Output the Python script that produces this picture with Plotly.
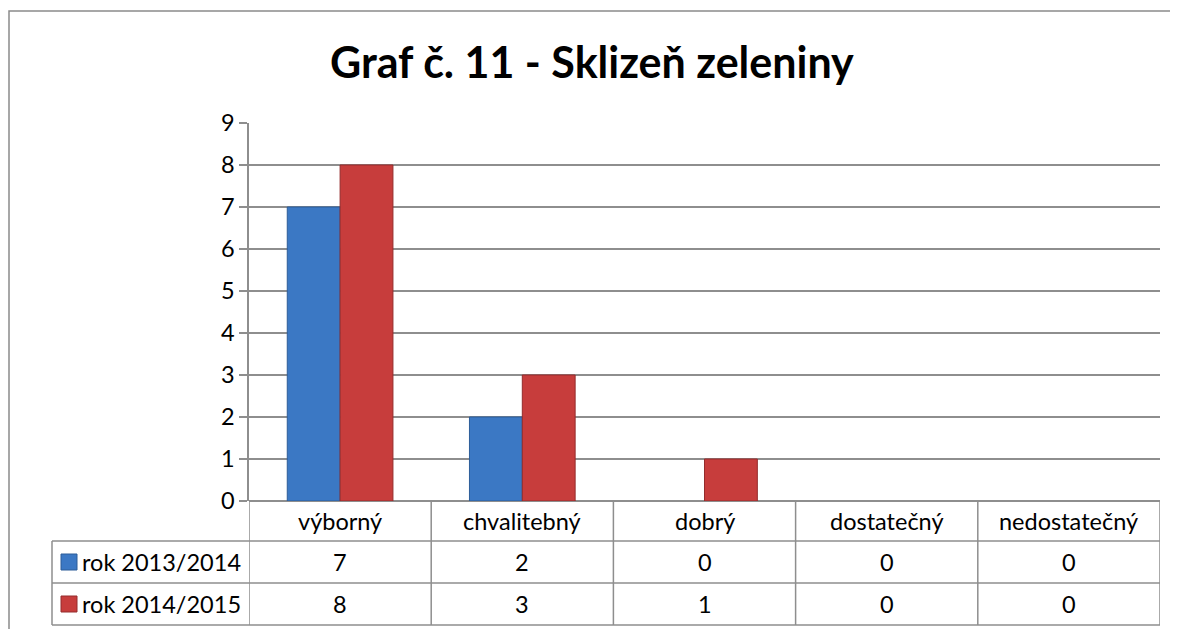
import plotly.graph_objects as go

categories = ["výborný", "chvalitebný", "dobrý", "dostatečný", "nedostatečný"]
series_names = ["rok 2013/2014", "rok 2014/2015"]
values_2013 = [7, 2, 0, 0, 0]
values_2014 = [8, 3, 1, 0, 0]
y_ticks = list(range(0, 10))
title_text = "Graf č. 11 - Sklizeň zeleniny"

colors = ["#3B78C4", "#C73D3C"]
edge_colors = ["#2C5C98", "#942C2C"]
FONT = "Lato"
GRID = "#8E8E8E"
FS = 23.5

OFF = 8  # browser body margin
W, H = 1178 - OFF, 629 - OFF
L, R, T, B = 249 - OFF, 1160 - OFF, 123 - OFF, 501 - OFF
plot_w, plot_h = R - L, B - T


def px_x(x):
    return (x - OFF - L) / plot_w


def px_y(y):
    return (B - (y - OFF)) / plot_h


fig = go.Figure()
for name, vals, col, ecol in zip(series_names, [values_2013, values_2014], colors, edge_colors):
    fig.add_trace(go.Bar(
        x=categories, y=[v if v else None for v in vals], name=name,
        marker=dict(color=col, line=dict(color=ecol, width=1)),
        showlegend=False,
    ))

shapes = []
line = dict(color=GRID, width=1.5)
shapes.append(dict(type="rect", xref="paper", yref="paper",
                   x0=px_x(9), x1=px_x(1190), y0=px_y(11), y1=px_y(645),
                   line=dict(color="#8A8A8A", width=1.5), layer="below"))
row_lines = [541, 583, 625]
for yy in row_lines:
    shapes.append(dict(type="line", xref="paper", yref="paper",
                       x0=px_x(52), x1=1, y0=px_y(yy), y1=px_y(yy), line=line))
for k in range(len(categories) + 1):
    shapes.append(dict(type="line", xref="x", yref="paper",
                       x0=k - 0.5, x1=k - 0.5, y0=0, y1=px_y(625), line=line))
shapes.append(dict(type="line", xref="paper", yref="paper",
                   x0=px_x(52), x1=px_x(52), y0=px_y(541), y1=px_y(625), line=line))

annotations = []
row_y = [562, 604]
for c in categories:
    annotations.append(dict(x=c, xref="x", y=px_y(521), yref="paper", text=c,
                            showarrow=False, font=dict(family=FONT, size=FS, color="#000"),
                            xanchor="center", yanchor="middle"))
for i, (name, vals) in enumerate(zip(series_names, [values_2013, values_2014])):
    yy = row_y[i]
    for c, v in zip(categories, vals):
        annotations.append(dict(x=c, xref="x", y=px_y(yy), yref="paper", text=str(v),
                                showarrow=False, font=dict(family=FONT, size=FS, color="#000"),
                                xanchor="center", yanchor="middle"))
    annotations.append(dict(x=px_x(80), xref="paper", y=px_y(yy), yref="paper", text=name,
                            showarrow=False, font=dict(family=FONT, size=FS, color="#000"),
                            xanchor="left", yanchor="middle"))
    shapes.append(dict(type="rect", xref="paper", yref="paper",
                       x0=px_x(61), x1=px_x(77), y0=px_y(yy - 8), y1=px_y(yy + 8),
                       fillcolor=colors[i], line=dict(color=edge_colors[i], width=1)))

annotations.append(dict(x=px_x(592), xref="paper", y=px_y(61), yref="paper",
                        text="<b>" + title_text + "</b>", showarrow=False,
                        font=dict(family=FONT, size=43, color="#000"),
                        xanchor="center", yanchor="middle"))

fig.update_layout(
    width=W, height=H,
    margin=dict(l=L, r=W - R, t=T, b=H - B),
    paper_bgcolor="white", plot_bgcolor="white",
    barmode="group", bargap=0.42, bargroupgap=0,
    shapes=shapes, annotations=annotations,
    font=dict(family=FONT, size=FS, color="#000"),
)
fig.update_xaxes(showticklabels=False, showgrid=False, showline=False, zeroline=False,
                 range=[-0.5, len(categories) - 0.5], ticks="")
fig.update_yaxes(range=[0, 9], tickvals=y_ticks, showgrid=True, gridcolor=GRID, gridwidth=1.5,
                 zeroline=True, zerolinecolor=GRID, zerolinewidth=1.5,
                 showline=True, linecolor=GRID, linewidth=1.5,
                 ticks="outside", ticklen=8, tickcolor=GRID, tickwidth=1.5,
                 tickfont=dict(family=FONT, size=FS, color="#000"))

fig.write_html("out.html")
